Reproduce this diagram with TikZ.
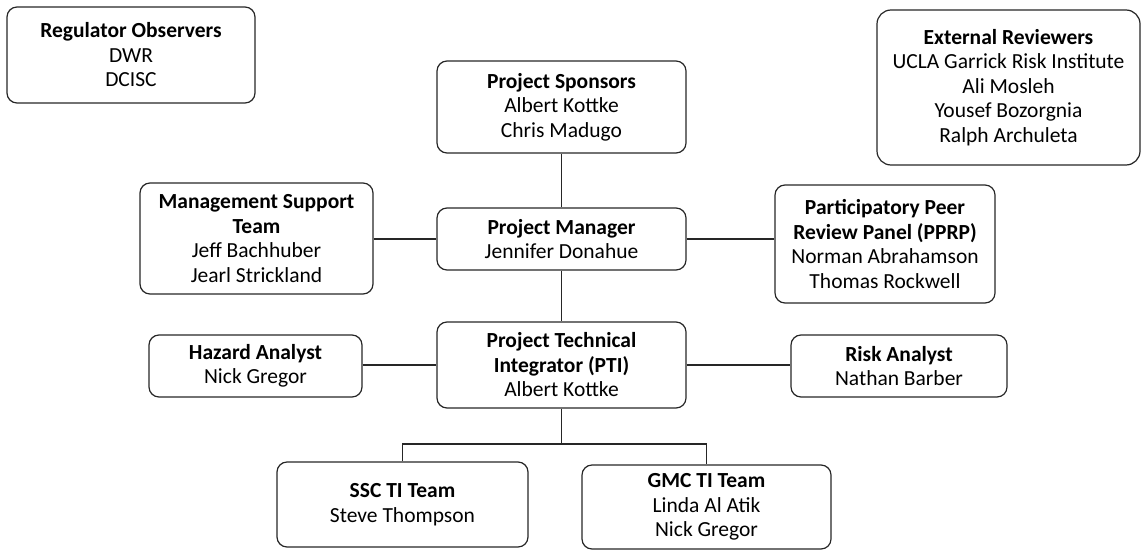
\documentclass[tikz,border=0pt]{standalone}
\usepackage{fontspec}
\setmainfont{Carlito}
\usepackage{tikz}
\tikzstyle{unit} = [draw=black!85, line width=0.6pt, rounded corners=5pt,
	align=center, inner sep=0pt]
\tikzstyle{link} = [draw=black!85, line width=0.6pt]

\begin{document}
\begin{tikzpicture}[x=0.5pt, y=-0.5pt,
	every node/.style={font=\fontsize{10.75}{12.25}\selectfont}]
	\useasboundingbox (0,0) rectangle (1143,551);
	% top row
	\node[unit, minimum width=124pt, minimum height=48pt] (obs) at (131,55)
		{\textbf{Regulator Observers}\\DWR\\DCISC};
	\node[unit, minimum width=124.5pt, minimum height=46pt] (spons) at (561.5,107)
		{\textbf{Project Sponsors}\\Albert Kottke\\Chris Madugo};
	\node[unit, rounded corners=7pt, minimum width=131.5pt, minimum height=77.5pt] (ext) at (1008.5,87.5)
		{\textbf{External Reviewers}\\UCLA Garrick Risk Institute\\Ali Mosleh\\Yousef Bozorgnia\\Ralph Archuleta};
	% manager row
	\node[unit, minimum width=116.5pt, minimum height=55.5pt] (mst) at (256.5,238.5)
		{\textbf{Management Support}\\\textbf{Team}\\Jeff Bachhuber\\Jearl Strickland};
	\node[unit, minimum width=124.5pt, minimum height=31pt] (pm) at (561.5,239)
		{\textbf{Project Manager}\\Jennifer Donahue};
	\node[unit, minimum width=110pt, minimum height=59pt] (pprp) at (885,244)
		{\textbf{Participatory Peer}\\\textbf{Review Panel (PPRP)}\\Norman Abrahamson\\Thomas Rockwell};
	% integrator row
	\node[unit, minimum width=106.5pt, minimum height=31pt] (haz) at (255.5,366)
		{\textbf{Hazard Analyst}\\Nick Gregor};
	\node[unit, minimum width=124.5pt, minimum height=43pt] (pti) at (561.5,365)
		{\textbf{Project Technical}\\\textbf{Integrator (PTI)}\\Albert Kottke};
	\node[unit, minimum width=108pt, minimum height=31pt] (risk) at (899,366)
		{\textbf{Risk Analyst}\\Nathan Barber};
	% TI teams
	\node[unit, minimum width=125.5pt, minimum height=42.5pt] (ssc) at (402.5,504.5)
		{\textbf{SSC TI Team}\\Steve Thompson};
	\node[unit, minimum width=124.5pt, minimum height=42pt] (gmc) at (706.5,507)
		{\textbf{GMC TI Team}\\Linda Al Atik\\Nick Gregor};
	\coordinate (bar) at (561.5,444);

	\draw[link] (spons) -- (pm);
	\draw[link] (pm) -- (pti);
	\draw[link] (mst.east |- pm.west) -- (pm.west);
	\draw[link] (pm.east) -- (pm.east -| pprp.west);
	\draw[link] (haz.east |- pti.west) -- (pti.west);
	\draw[link] (pti.east) -- (pti.east -| risk.west);
	\draw[link] (pti) -- (bar);
	\draw[link] (ssc.north) |- (bar) -| (gmc.north);
\end{tikzpicture}
\end{document}
